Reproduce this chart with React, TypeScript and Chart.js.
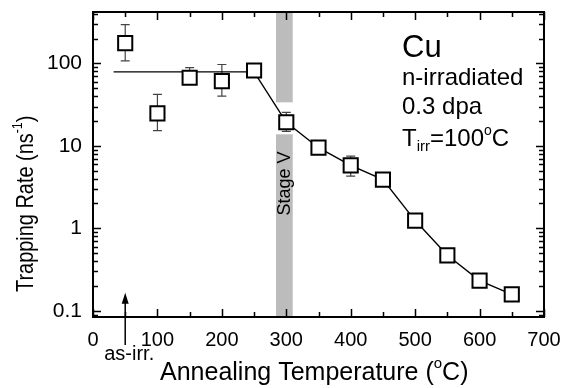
import React, { useEffect, useRef } from 'react';
import { Chart, registerables } from 'chart.js';

Chart.register(...registerables);

const FONT = "'Liberation Sans', Arial, Helvetica, sans-serif";

// measured data (annealing temperature in °C, trapping rate in ns^-1)
const temps = [50, 100, 150, 200, 250, 300, 350, 400, 450, 500, 550, 600, 650];
const rates = [176, 24.8, 67, 61, 82, 19.3, 9.5, 5.8, 3.9, 1.24, 0.47, 0.232, 0.158];
const errLow = [107, 15.3, 56, 40, null, 15, null, 4.3, null, null, null, null, null];
const errHigh = [295, 42, 89, 97, null, 25.5, null, 7.5, null, null, null, null, null];

// guide line through the data
const lineTemps = [32, 250, 300, 350, 400, 450, 500, 550, 600, 650];
const lineRates = [79, 79, 19.3, 9.5, 5.8, 3.9, 1.24, 0.47, 0.232, 0.158];

// axes
const xTicks = [0, 100, 200, 300, 400, 500, 600, 700];
const yTicks = [0.1, 1, 10, 100];
const xMin = 0;
const xMax = 700;
const yMin = 0.084;
const yMax = 420;

// stage V band (temperature range) and interruption around the 300 °C point
const stageBand = [284, 310];
const stageGap = [13.8, 33.7];
const asIrrTemp = 50;

type Run = { t: string; s: number; dy?: number };

function drawRuns(ctx: CanvasRenderingContext2D, runs: Run[], x: number, y: number) {
  let cx = x;
  for (const r of runs) {
    ctx.font = `${r.s}px ${FONT}`;
    ctx.fillText(r.t, cx, y + (r.dy || 0));
    cx += ctx.measureText(r.t).width;
  }
}

const decor = {
  id: 'decor',
  beforeDatasetsDraw(chart: any) {
    const ctx: CanvasRenderingContext2D = chart.ctx;
    const xs = chart.scales.x;
    const ys = chart.scales.y;
    const a = chart.chartArea;
    ctx.save();
    // stage V band
    const bx0 = xs.getPixelForValue(stageBand[0]);
    const bx1 = xs.getPixelForValue(stageBand[1]);
    ctx.fillStyle = '#bcbcbc';
    const gTop = ys.getPixelForValue(stageGap[1]);
    const gBot = ys.getPixelForValue(stageGap[0]);
    ctx.fillRect(bx0, a.top, bx1 - bx0, gTop - a.top);
    ctx.fillRect(bx0, gBot, bx1 - bx0, a.bottom - gBot);
    // Stage V label
    ctx.fillStyle = '#000';
    ctx.font = `18px ${FONT}`;
    ctx.translate((bx0 + bx1) / 2 + 1, ys.getPixelForValue(3.5));
    ctx.rotate(-Math.PI / 2);
    ctx.textAlign = 'center';
    ctx.textBaseline = 'middle';
    ctx.fillText('Stage V', 0, 0);
    ctx.restore();

    // error bars
    ctx.save();
    ctx.strokeStyle = '#444';
    ctx.lineWidth = 1.2;
    temps.forEach((t, i) => {
      const lo = errLow[i];
      const hi = errHigh[i];
      if (lo == null || hi == null) return;
      const px = xs.getPixelForValue(t);
      const y0 = ys.getPixelForValue(lo);
      const y1 = ys.getPixelForValue(hi);
      ctx.beginPath();
      ctx.moveTo(px, y0);
      ctx.lineTo(px, y1);
      ctx.moveTo(px - 4.5, y0);
      ctx.lineTo(px + 4.5, y0);
      ctx.moveTo(px - 4.5, y1);
      ctx.lineTo(px + 4.5, y1);
      ctx.stroke();
    });
    ctx.restore();
  },
  afterDraw(chart: any) {
    const ctx: CanvasRenderingContext2D = chart.ctx;
    const xs = chart.scales.x;
    const ys = chart.scales.y;
    const a = chart.chartArea;
    ctx.save();
    ctx.strokeStyle = '#000';
    // ticks
    ctx.lineWidth = 1.5;
    ctx.beginPath();
    for (let v = xMin; v <= xMax; v += 50) {
      const px = Math.round(xs.getPixelForValue(v)) + 0.5;
      const len = v % 100 === 0 ? 8 : 5;
      ctx.moveTo(px, a.bottom);
      ctx.lineTo(px, a.bottom - len);
      ctx.moveTo(px, a.top);
      ctx.lineTo(px, a.top + len);
    }
    for (let d = -2; d <= 3; d++) {
      for (let m = 1; m <= 9; m++) {
        const v = m * Math.pow(10, d);
        if (v < yMin || v > yMax) continue;
        const py = Math.round(ys.getPixelForValue(v)) + 0.5;
        const len = m === 1 ? 8 : 5;
        ctx.moveTo(a.left, py);
        ctx.lineTo(a.left + len, py);
        ctx.moveTo(a.right, py);
        ctx.lineTo(a.right - len, py);
      }
    }
    ctx.stroke();
    // frame
    ctx.lineWidth = 2;
    ctx.strokeRect(a.left, a.top, a.right - a.left, a.bottom - a.top);

    // as-irr arrow
    const ax = xs.getPixelForValue(asIrrTemp);
    const tipY = ys.getPixelForValue(0.165);
    ctx.lineWidth = 1.5;
    ctx.beginPath();
    ctx.moveTo(ax, tipY + 8);
    ctx.lineTo(ax, a.bottom + 28);
    ctx.stroke();
    ctx.fillStyle = '#000';
    ctx.beginPath();
    ctx.moveTo(ax, tipY);
    ctx.lineTo(ax - 3.5, tipY + 11);
    ctx.lineTo(ax + 3.5, tipY + 11);
    ctx.closePath();
    ctx.fill();

    ctx.textBaseline = 'alphabetic';
    ctx.textAlign = 'center';
    ctx.font = `20px ${FONT}`;
    ctx.fillText('as-irr.', ax + 4, a.bottom + 43);

    ctx.textAlign = 'left';
    // annotations
    ctx.font = `31px ${FONT}`;
    ctx.fillText('Cu', 402, 57);
    ctx.font = `24px ${FONT}`;
    ctx.fillText('n-irradiated', 402, 85);
    ctx.fillText('0.3 dpa', 402, 114);
    drawRuns(ctx, [
      { t: 'T', s: 24 },
      { t: 'irr', s: 15, dy: 5 },
      { t: '=100', s: 24 },
      { t: 'o', s: 14, dy: -11 },
      { t: 'C', s: 24 },
    ], 402, 146);

    // x title
    drawRuns(ctx, [
      { t: 'Annealing Temperature (', s: 25 },
      { t: 'o', s: 15, dy: -12 },
      { t: 'C)', s: 25 },
    ], 160, 380);

    // y title (condensed along its length, as in the original)
    ctx.translate(33, 292);
    ctx.rotate(-Math.PI / 2);
    ctx.scale(0.83, 1);
    drawRuns(ctx, [
      { t: 'Trapping Rate (ns', s: 24 },
      { t: '-1', s: 15, dy: -11 },
      { t: ')', s: 24 },
    ], 0, 0);
    ctx.restore();
  },
};

export default function App() {
  const ref = useRef<HTMLCanvasElement | null>(null);
  useEffect(() => {
    const canvas = ref.current;
    if (!canvas) return;
    const chart = new Chart(canvas, {
      type: 'scatter',
      data: {
        datasets: [
          {
            label: 'data',
            data: temps.map((t, i) => ({ x: t, y: rates[i] })),
            pointStyle: 'rect',
            pointRadius: 10,
            borderColor: '#000',
            borderWidth: 2,
            backgroundColor: '#fff',
            showLine: false,
            order: 0,
          },
          {
            label: 'line',
            data: lineTemps.map((t, i) => ({ x: t, y: lineRates[i] })),
            showLine: true,
            pointRadius: 0,
            borderColor: '#000',
            borderWidth: 1.4,
            fill: false,
            order: 1,
          },
        ],
      } as any,
      options: {
        responsive: false,
        animation: false,
        events: [],
        layout: { padding: { left: 0, right: 18, top: 9, bottom: 0 } },
        plugins: { legend: { display: false }, tooltip: { enabled: false } },
        scales: {
          x: {
            type: 'linear',
            min: xMin,
            max: xMax,
            grid: { display: false, drawTicks: false },
            border: { display: false },
            afterBuildTicks: (s: any) => {
              s.ticks = xTicks.map((v) => ({ value: v }));
            },
            afterFit: (s: any) => {
              s.height = 71;
              s.paddingLeft = 0;
              s.paddingRight = 0;
              s.paddingTop = 0;
              s.paddingBottom = 0;
            },
            ticks: {
              font: { family: FONT, size: 20 },
              color: '#000',
              padding: 11,
              maxRotation: 0,
              autoSkip: false,
              callback: (v: any) => String(v),
            },
          },
          y: {
            type: 'logarithmic',
            min: yMin,
            max: yMax,
            grid: { display: false, drawTicks: false },
            border: { display: false },
            afterBuildTicks: (s: any) => {
              s.ticks = yTicks.map((v) => ({ value: v }));
            },
            afterFit: (s: any) => {
              s.width = 93;
              s.paddingLeft = 0;
              s.paddingRight = 0;
              s.paddingTop = 0;
              s.paddingBottom = 0;
            },
            ticks: {
              font: { family: FONT, size: 21 },
              color: '#000',
              padding: 11,
              autoSkip: false,
              callback: (v: any) => String(v),
            },
          },
        },
      } as any,
      plugins: [decor],
    });
    return () => chart.destroy();
  }, []);
  return (
    <div style={{ position: 'fixed', left: 0, top: 0, width: 562, height: 388, background: '#fff' }}>
      <canvas ref={ref} width={562} height={388} style={{ display: 'block' }} />
    </div>
  );
}
